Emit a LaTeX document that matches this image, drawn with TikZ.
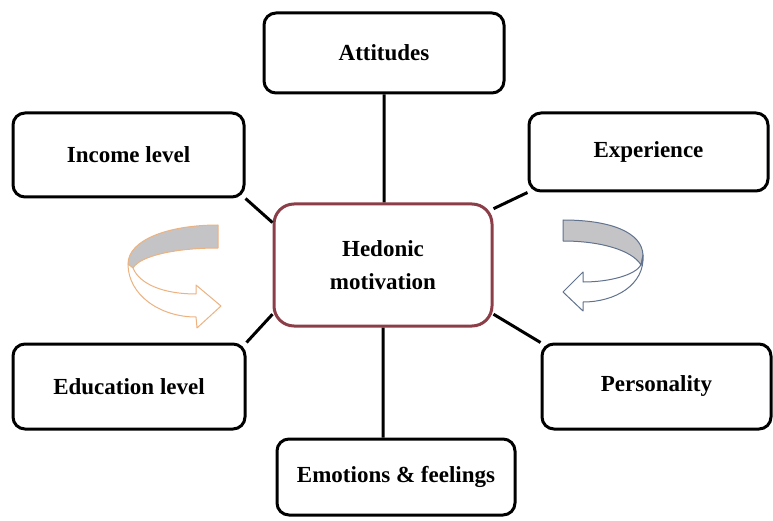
\documentclass[tikz,border=0pt]{standalone}
\usepackage{fontspec}
\setmainfont{Liberation Serif}
\definecolor{hedred}{RGB}{140,62,72}
\definecolor{arrorange}{RGB}{236,178,128}
\definecolor{arrblue}{RGB}{96,114,142}
\definecolor{bandgray}{RGB}{196,196,198}
\tikzset{
factor/.style={draw, line width=3pt, rounded corners=12pt, fill=white, align=center, inner sep=0pt, font=\fontsize{23}{33}\selectfont\bfseries}, % the boxes round the centre
core/.style={factor, draw=hedred, rounded corners=20pt}, % the centre box
link/.style={line width=3pt}, % the lines from the centre
band/.style={line width=1pt, line join=round}, % the turning arrows
}
\begin{document}
\begin{tikzpicture}[x=1pt, y=-1pt]
                \useasboundingbox (0,0) rectangle (773,521);
                \node[core, minimum width=218pt, minimum height=122pt] (hed) at (383,265) {Hedonic\\motivation};
                \node[factor, minimum width=240pt, minimum height=80pt] (att) at (384,53) {Attitudes};
                \node[factor, minimum width=231pt, minimum height=84pt] (inc) at (128.5,155) {Income level};
                \node[factor, minimum width=239pt, minimum height=78pt] (exp) at (648.5,152) {Experience};
                \node[factor, minimum width=232pt, minimum height=85pt] (edu) at (129,386.5) {Education level};
                \node[factor, minimum width=229pt, minimum height=85pt] (per) at (656.5,386.5) {Personality};
                \node[factor, minimum width=238pt, minimum height=76pt] (emo) at (396,477) {Emotions \& feelings};
                \draw[link]
                    (att.south) -- (att.south |- hed.north)
                    (inc.south east) -- (hed.159)
                    (exp.south west) -- (hed.27)
                    (edu.north east) -- (hed.204)
                    (per.north west) -- (hed.-24)
                    (hed.south) -- (hed.south |- emo.north)
                    ;
                % left turning arrow
                \draw[band, draw=arrorange, fill=bandgray]
                    (218,225) .. controls (168,225) and (128,240) .. (128,264) -- (133,268)
                    .. controls (140,256) and (175,248) .. (218,248) -- cycle;
                \draw[band, draw=arrorange, fill=white]
                    (128,264) .. controls (128,295) and (160,317) .. (196,317) -- (197,328) -- (221,306)
                    -- (196,285) -- (196,294) .. controls (165,294) and (140,285) .. (133,268) -- cycle;
                % right turning arrow
                \draw[band, draw=arrblue, fill=bandgray]
                    (563,220) .. controls (610,220) and (642,232) .. (643,255) -- (641,265)
                    .. controls (632,250) and (600,241) .. (563,241) -- cycle;
                \draw[band, draw=arrblue, fill=white]
                    (643,255) .. controls (645,285) and (615,302) .. (583,302) -- (583,311) -- (563,292)
                    -- (583,272) -- (583,282) .. controls (610,282) and (635,275) .. (641,265) -- cycle;
\end{tikzpicture}
\end{document}
